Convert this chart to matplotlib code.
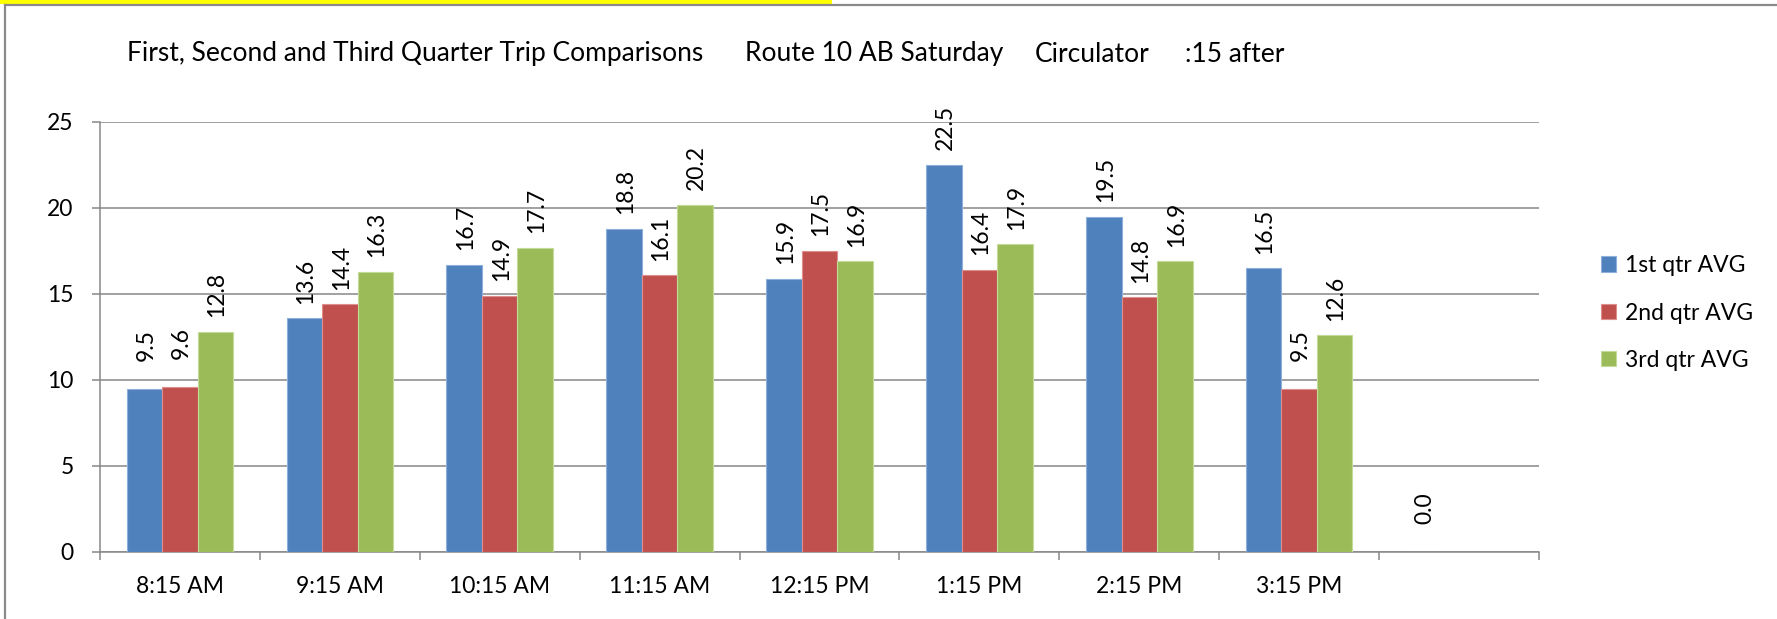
import numpy as np
import matplotlib
matplotlib.use("Agg")
from matplotlib import pyplot as plt
from matplotlib.patches import Rectangle
from matplotlib.lines import Line2D

plt.rcParams['font.family'] = ['Lato', 'DejaVu Sans']

times = ["8:15 AM", "9:15 AM", "10:15 AM", "11:15 AM", "12:15 PM",
         "1:15 PM", "2:15 PM", "3:15 PM", ""]
q1 = [9.5, 13.6, 16.7, 18.8, 15.9, 22.5, 19.5, 16.5, 0.0]
q2 = [9.6, 14.4, 14.9, 16.1, 17.5, 16.4, 14.8, 9.5, np.nan]
q3 = [12.8, 16.3, 17.7, 20.2, 16.9, 17.9, 16.9, 12.6, np.nan]
series_names = ["1st qtr AVG", "2nd qtr AVG", "3rd qtr AVG"]
title_parts = ["First, Second and Third Quarter Trip Comparisons",
               "Route 10 AB Saturday", "Circulator", ":15 after"]

colors = ["#4F81BD", "#C0504D", "#9BBB59"]
edges = ["#8FB0DA", "#DE8E8C", "#C4DA98"]
grid_c = "#878787"
W, H = 1777, 619
fs = 16.5
fs_title = 19


def main():
    fig = plt.figure(figsize=(W / 100, H / 100), dpi=100)
    fig.patch.set_facecolor("white")

    # frame of the embedded chart and the cut-off yellow banner above it
    fig.add_artist(Line2D([5 / W, 1], [1 - 5 / H, 1 - 5 / H], transform=fig.transFigure,
                          color="#8a8a8a", lw=1.6))
    fig.add_artist(Line2D([5 / W, 5 / W], [1 - 5 / H, 0], transform=fig.transFigure,
                          color="#8a8a8a", lw=1.6))
    fig.add_artist(Rectangle((0, 1 - 4 / H), 832 / W, 4 / H, transform=fig.transFigure,
                             facecolor="#FFFF00", edgecolor="none"))

    ax = fig.add_axes([100 / W, 1 - 552 / H, (1539 - 100) / W, (552 - 122) / H])
    x = np.arange(len(times))
    w = 1 / 4.5
    handles = []
    for i, (vals, name) in enumerate(zip([q1, q2, q3], series_names)):
        pos = x + (i - 1) * w
        b = ax.bar(pos, vals, w, color=colors[i], edgecolor=edges[i], linewidth=0.8,
                   label=name, zorder=3)
        handles.append(b)
        for px, v in zip(pos, vals):
            if np.isnan(v):
                continue
            ax.annotate("%.1f" % v, (px, v), xytext=(1, 43), textcoords="offset points",
                        rotation=90, ha="center", va="top", fontsize=fs, color="black")

    ax.set_xlim(-0.5, len(times) - 0.5)
    ax.set_ylim(0, 25)
    ax.set_yticks(range(0, 26, 5))
    ax.yaxis.grid(True, color=grid_c, lw=1.1, zorder=0)
    ax.set_axisbelow(True)
    for s in ["top", "right"]:
        ax.spines[s].set_visible(False)
    for s in ["left", "bottom"]:
        ax.spines[s].set_color(grid_c)
        ax.spines[s].set_linewidth(1.1)
    ax.set_xticks(x)
    ax.set_xticklabels(times)
    ax.set_xticks(np.arange(-0.5, len(times), 1), minor=True)
    ax.tick_params(axis="x", which="major", length=0, pad=17, labelsize=fs)
    ax.tick_params(axis="x", which="minor", length=6, width=1.1, color=grid_c)
    ax.tick_params(axis="y", length=6, width=1.1, color=grid_c, pad=13, labelsize=fs)

    title_x = [127, 745, 1035, 1185]
    for t, tx in zip(title_parts, title_x):
        fig.text(tx / W, 1 - 54 / H, t, fontsize=fs_title, ha="left", va="center")

    fig.legend(handles=handles, loc="center left",
               bbox_to_anchor=(1580 / W, 1 - 313 / H), frameon=False, fontsize=fs,
               handlelength=0.65, handleheight=0.65, handletextpad=0.4,
               labelspacing=1.15)

    fig.savefig("out.png", dpi=100)


if __name__ == '__main__':
    main()
